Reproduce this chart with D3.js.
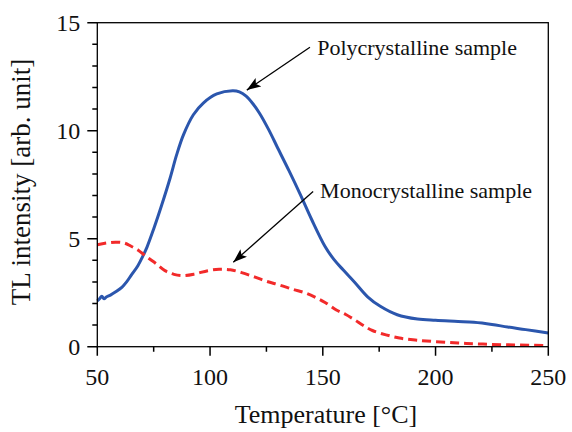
<!DOCTYPE html>
<html>
<head>
<meta charset="utf-8">
<script src="https://cdn.jsdelivr.net/npm/d3@7"></script>
<style>
  html, body { margin: 0; padding: 0; background: #fff; }
  svg { display: block; }
</style>
</head>
<body>
<svg id="chart" width="572" height="432"></svg>
<script>
// Temperature (°C) and TL intensity for the polycrystalline sample
const polyTemp = [50, 51, 52, 53, 54, 56, 58, 61, 63, 65, 68, 70, 72, 75, 78.6, 82.3, 85.2, 88.2, 92.6, 97, 103, 110, 113, 116, 119, 122, 126, 130, 135, 140, 145, 151, 155, 159, 164, 170, 175.5, 183, 192, 200, 210, 217, 225, 232, 240, 250];
const polyTL   = [2.12, 2.22, 2.34, 2.22, 2.3, 2.4, 2.53, 2.76, 3.0, 3.3, 3.75, 4.15, 4.6, 5.45, 6.57, 7.81, 8.89, 9.81, 10.74, 11.28, 11.7, 11.85, 11.8, 11.6, 11.25, 10.8, 10.05, 9.2, 8.15, 7.05, 5.9, 4.64, 4.03, 3.56, 3.0, 2.3, 1.87, 1.48, 1.28, 1.22, 1.17, 1.13, 1.03, 0.91, 0.79, 0.63];

// Temperature (°C) and TL intensity for the monocrystalline sample
const monoTemp = [50, 54, 58, 62, 65, 68, 72, 76, 80, 84, 88, 93, 99, 104, 109, 114, 120, 125, 131, 137, 142, 147, 151, 156, 160, 164, 168, 172, 178, 184, 191, 199, 210, 221, 235, 250];
const monoTL   = [4.72, 4.8, 4.84, 4.8, 4.65, 4.48, 4.15, 3.85, 3.52, 3.35, 3.29, 3.36, 3.52, 3.58, 3.56, 3.43, 3.22, 3.03, 2.85, 2.65, 2.5, 2.27, 2.05, 1.7, 1.5, 1.25, 0.98, 0.75, 0.55, 0.4, 0.31, 0.24, 0.17, 0.12, 0.08, 0.05];

// Axis ticks
const xMajor = [50, 100, 150, 200, 250];
const xMinor = [75, 125, 175, 225];
const yMajor = [0, 5, 10, 15];
const yMinor = [1, 2, 3, 4, 6, 7, 8, 9, 11, 12, 13, 14];

// Annotation labels: text anchor point and arrow (start -> tip), in data units
const labels = ["Polycrystalline sample", "Monocrystalline sample"];
const labelPos = [[147.5, 13.5], [148.8, 6.9]];
const arrowFrom = [[144.3, 13.86], [145.7, 7.19]];
const arrowTo = [[116.3, 11.88], [110.3, 3.91]];

const W = 572, H = 432;
const margin = { left: 97.3, right: W - 548.3, top: 22.7, bottom: H - 346.7 };
const SERIF = "Liberation Serif";
const INK = "#111";

const svg = d3.select("#chart");

const x = d3.scaleLinear().domain([50, 250]).range([margin.left, W - margin.right]);
const y = d3.scaleLinear().domain([0, 15]).range([H - margin.bottom, margin.top]);

svg.append("defs").append("marker")
  .attr("id", "head")
  .attr("viewBox", "0 0 14 10")
  .attr("refX", 14).attr("refY", 5)
  .attr("markerWidth", 14).attr("markerHeight", 10)
  .attr("markerUnits", "userSpaceOnUse")
  .attr("orient", "auto")
  .append("path").attr("d", "M0,0 L14,5 L0,10 L3,5 Z").attr("fill", "#000");

// curves
const line = (xs, ys) => d3.line()
  .x((d, i) => x(xs[i]))
  .y((d, i) => y(ys[i]))
  .curve(d3.curveCatmullRom.alpha(0.5))(xs);

svg.append("path")
  .attr("d", line(polyTemp, polyTL))
  .attr("fill", "none").attr("stroke", "#2b56ad").attr("stroke-width", 3);

svg.append("path")
  .attr("d", line(monoTemp, monoTL))
  .attr("fill", "none").attr("stroke", "#f22a2a").attr("stroke-width", 3)
  .attr("stroke-dasharray", "9,5");

// tick marks (outward on bottom and left), drawn as one path
const x0 = x(50), y0 = y(0);
const tickPath =
  xMajor.map(d => `M${x(d)},${y0}V${y0 + 9}`).join("") +
  xMinor.map(d => `M${x(d)},${y0}V${y0 + 5}`).join("") +
  yMajor.map(d => `M${x0},${y(d)}H${x0 - 10}`).join("") +
  yMinor.map(d => `M${x0},${y(d)}H${x0 - 5}`).join("");
svg.append("path")
  .attr("d", tickPath)
  .attr("fill", "none").attr("stroke", "#000").attr("stroke-width", 1.5);

// tick labels
svg.append("g").selectAll("text").data(xMajor).join("text")
  .attr("x", d => x(d)).attr("y", y0 + 38)
  .attr("text-anchor", "middle")
  .attr("font-family", SERIF).attr("font-size", 24).attr("fill", INK)
  .text(d => d);
svg.append("g").selectAll("text").data(yMajor).join("text")
  .attr("x", x0 - 17).attr("y", d => y(d) + 8)
  .attr("text-anchor", "end")
  .attr("font-family", SERIF).attr("font-size", 24).attr("fill", INK)
  .text(d => d);

// plot frame
svg.append("rect")
  .attr("x", x0).attr("y", y(15))
  .attr("width", x(250) - x0).attr("height", y0 - y(15))
  .attr("fill", "none").attr("stroke", "#000").attr("stroke-width", 1.3);

// axis titles
svg.append("text")
  .attr("x", 326).attr("y", 423)
  .attr("text-anchor", "middle")
  .attr("font-family", SERIF).attr("font-size", 26).attr("fill", INK)
  .text("Temperature [°C]");

svg.append("text")
  .attr("transform", `translate(30,182) rotate(-90)`)
  .attr("text-anchor", "middle")
  .attr("font-family", SERIF).attr("font-size", 27).attr("fill", INK)
  .text("TL intensity [arb. unit]");

// annotations
labels.forEach((t, i) => {
  svg.append("line")
    .attr("x1", x(arrowFrom[i][0])).attr("y1", y(arrowFrom[i][1]))
    .attr("x2", x(arrowTo[i][0])).attr("y2", y(arrowTo[i][1]))
    .attr("stroke", "#000").attr("stroke-width", 1.3)
    .attr("marker-end", "url(#head)");
  svg.append("text")
    .attr("x", x(labelPos[i][0])).attr("y", y(labelPos[i][1]))
    .attr("font-family", SERIF).attr("font-size", 22).attr("fill", INK)
    .text(t);
});
</script>
</body>
</html>
